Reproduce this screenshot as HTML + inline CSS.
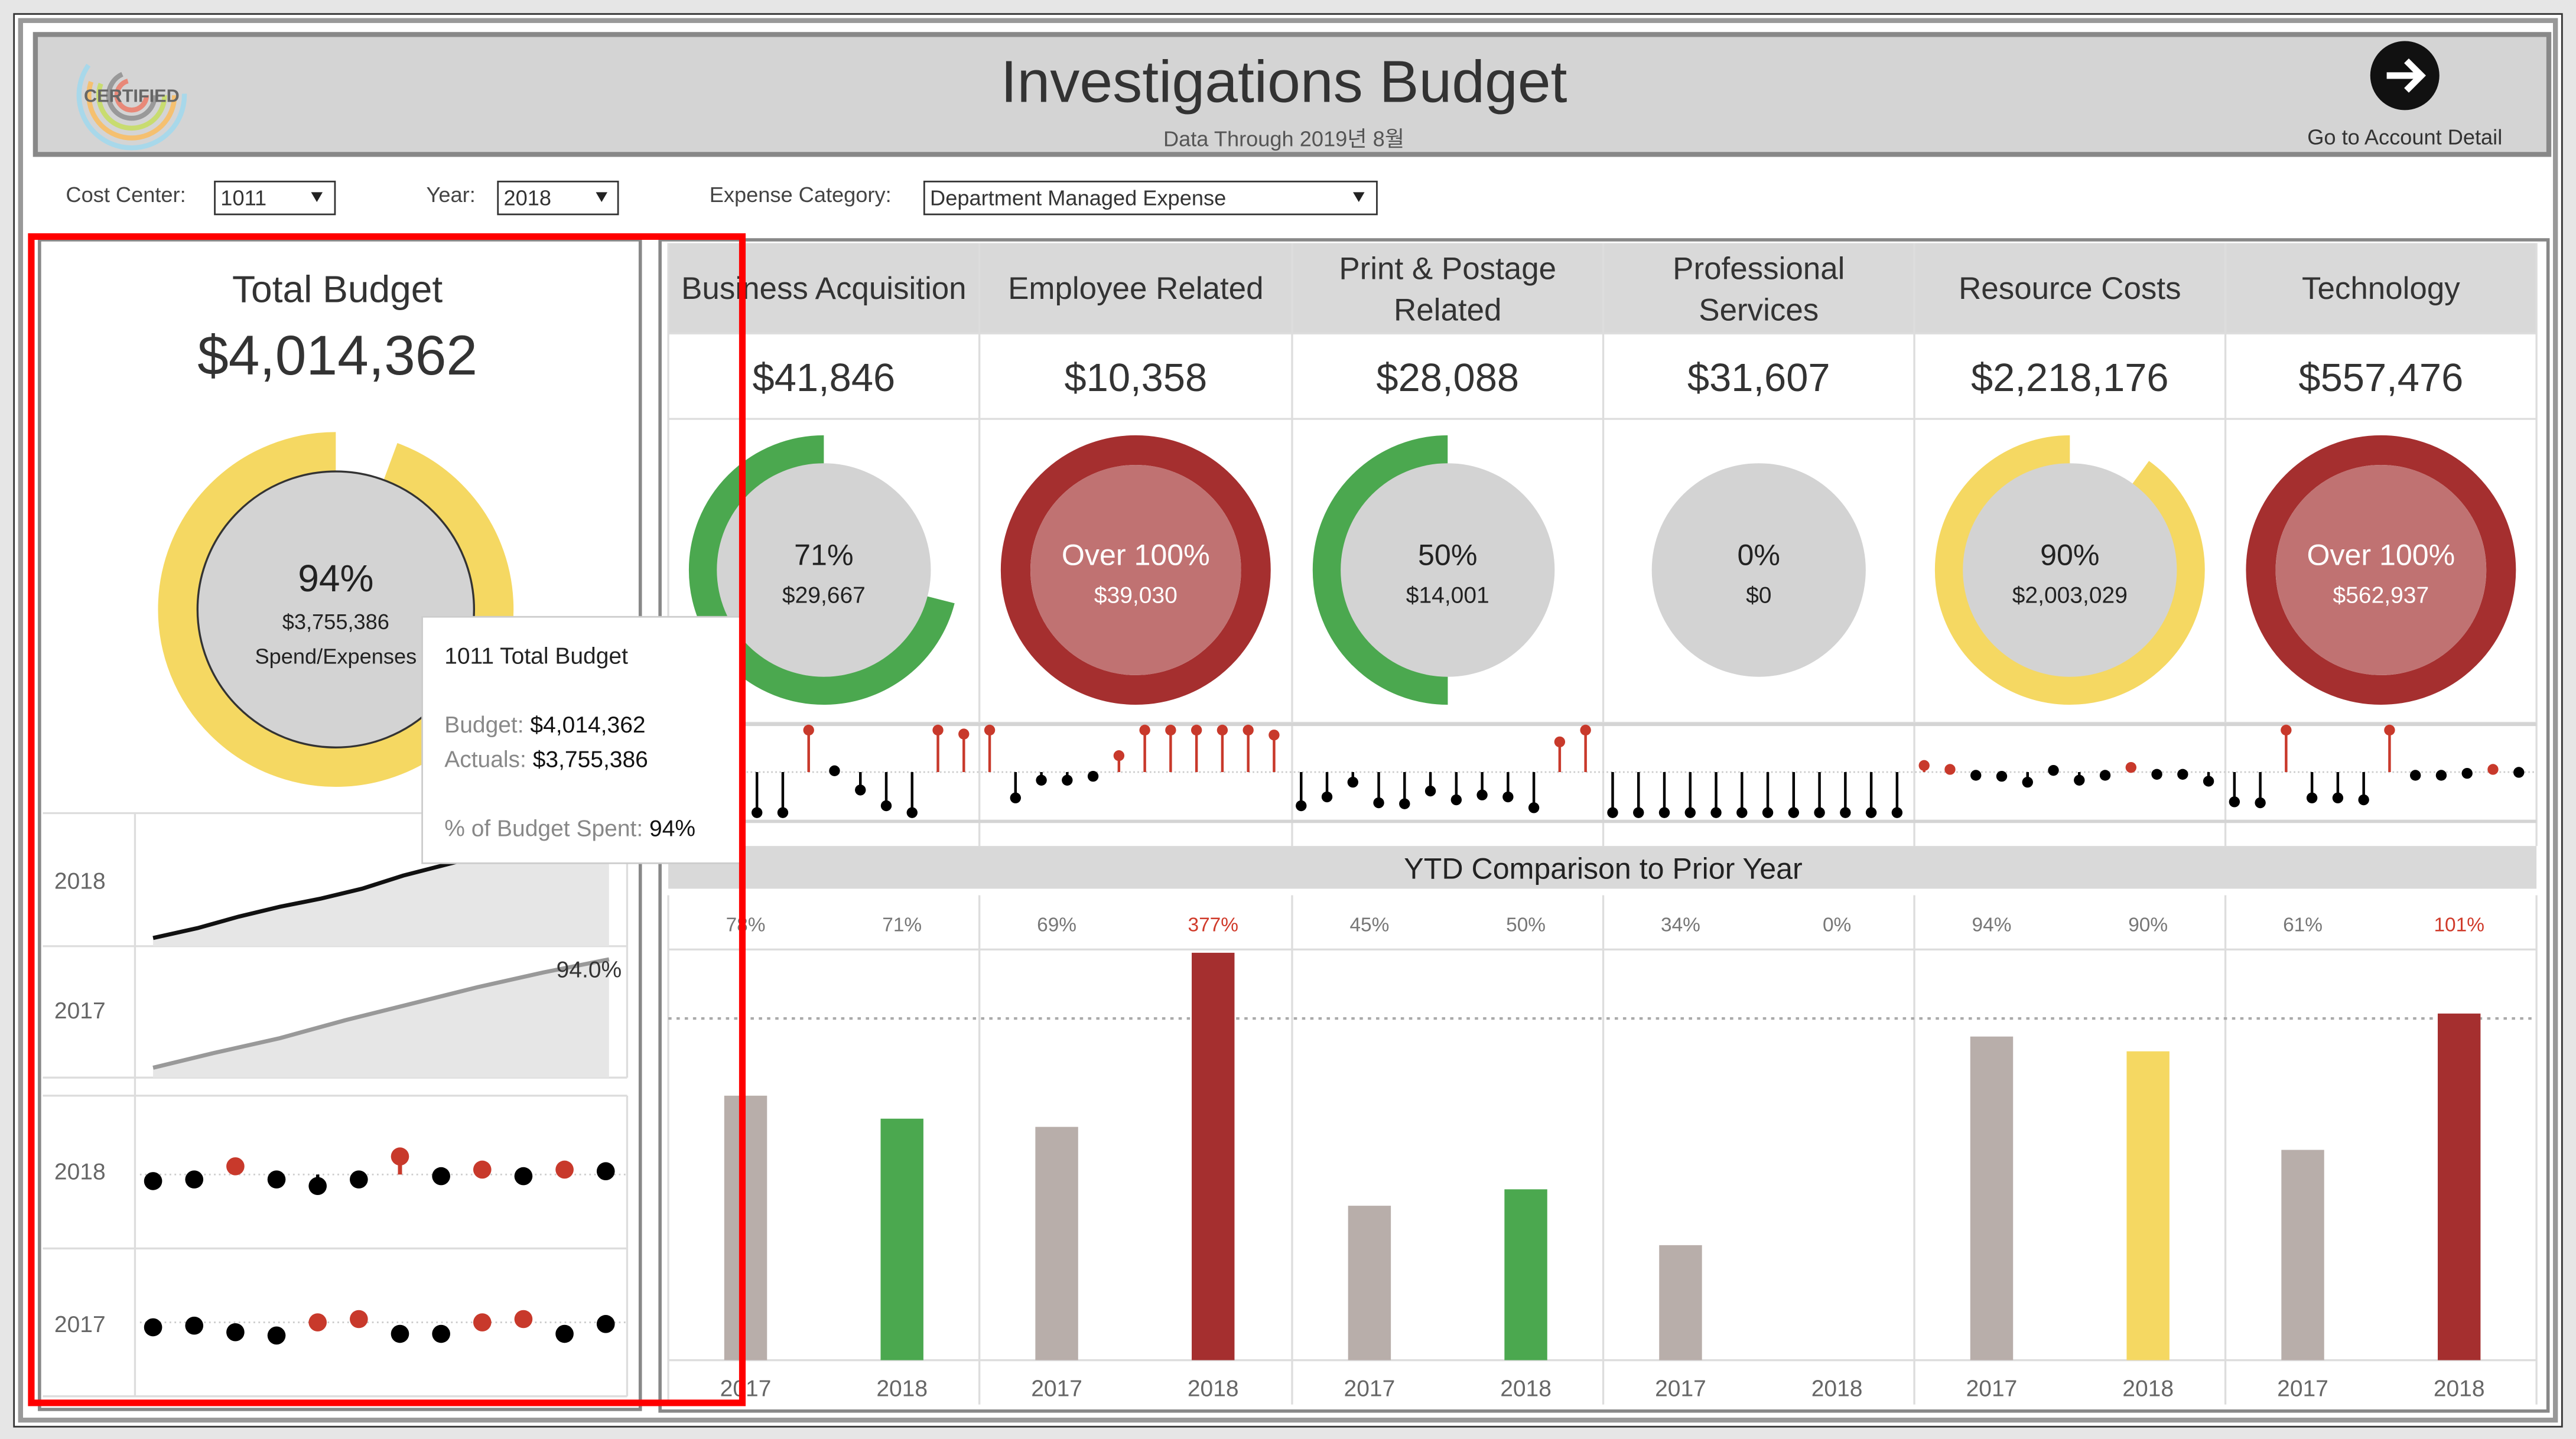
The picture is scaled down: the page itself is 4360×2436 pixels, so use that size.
<!DOCTYPE html>
<html><head><meta charset="utf-8">
<style>
html,body{margin:0;padding:0;background:#e6e6e6;}
svg{display:block;}
text{font-family:"Liberation Sans","Noto Sans CJK KR",sans-serif;}
</style></head>
<body>
<svg id="s" width="4360" height="2436" viewBox="0 0 1565 876" preserveAspectRatio="none" xmlns="http://www.w3.org/2000/svg">
<rect x="0" y="0" width="1565" height="876" fill="#e6e6e6"/>
<rect x="8.5" y="8.5" width="1548" height="860" fill="#fff" stroke="#333" stroke-width="1"/>
<rect x="12.5" y="12.5" width="1540" height="852" fill="#fff" stroke="#999" stroke-width="3"/>
<rect x="21.5" y="21" width="1527" height="73" fill="#d4d4d4" stroke="#888" stroke-width="3"/>
<g fill="none" stroke-width="3">
<circle cx="80" cy="58" r="32" stroke="#a8d8ea" stroke-dasharray="120 80"/>
<circle cx="80" cy="58" r="26" stroke="#f5c070" stroke-dasharray="90 80"/>
<circle cx="80" cy="58" r="20" stroke="#c8dc70" stroke-dasharray="70 60"/>
<circle cx="80" cy="58" r="14" stroke="#999" stroke-dasharray="60 30"/>
<circle cx="80" cy="58" r="9" stroke="#e88878" stroke-dasharray="40 20"/>
</g>
<text x="80" y="62" font-size="11" font-weight="bold" fill="#666" text-anchor="middle">CERTIFIED</text>
<text x="780" y="62" font-size="36" fill="#333" text-anchor="middle">Investigations Budget</text>
<text x="780" y="89" font-size="13" fill="#555" text-anchor="middle">Data Through 2019년 8월</text>
<circle cx="1461" cy="46" r="21" fill="#111"/>
<path d="M1450 46 H1470 M1462 37 L1471 46 L1462 55" stroke="#fff" stroke-width="4" fill="none"/>
<text x="1461" y="88" font-size="13" fill="#333" text-anchor="middle">Go to Account Detail</text>
<g font-size="13" fill="#444">
<text x="40" y="123">Cost Center:</text>
<text x="259" y="123">Year:</text>
<text x="431" y="123">Expense Category:</text>
</g>
<g fill="#fff" stroke="#333" stroke-width="1">
<rect x="130.5" y="110.5" width="73" height="20"/>
<rect x="302.5" y="110.5" width="73" height="20"/>
<rect x="561.5" y="110.5" width="275" height="20"/>
</g>
<g font-size="13" fill="#333">
<text x="134" y="125">1011</text><text x="306" y="125">2018</text><text x="565" y="125">Department Managed Expense</text>
</g>
<g fill="#222"><path d="M189 117 h7 l-3.5 6z"/><path d="M362 117 h7 l-3.5 6z"/><path d="M822 117 h7 l-3.5 6z"/></g>
<rect x="24" y="146" width="365" height="712" fill="#fff" stroke="#888" stroke-width="2"/>
<rect x="401" y="146" width="1147" height="713" fill="#fff" stroke="#888" stroke-width="2"/>
<text x="205" y="184" font-size="23" fill="#333" text-anchor="middle">Total Budget</text>
<text x="205" y="228" font-size="34" fill="#333" text-anchor="middle">$4,014,362</text>
<g id="left"></g>
<g id="right"></g>
<rect x="256.5" y="375.5" width="195" height="150" fill="#fff" stroke="#ccc"/>
<text x="270" y="404" font-size="14" fill="#222">1011 Total Budget</text>
<text x="270" y="446" font-size="14" fill="#888">Budget: <tspan fill="#111">$4,014,362</tspan></text>
<text x="270" y="467" font-size="14" fill="#888">Actuals: <tspan fill="#111">$3,755,386</tspan></text>
<text x="270" y="509" font-size="14" fill="#888">% of Budget Spent: <tspan fill="#111">94%</tspan></text>
<rect x="19" y="144" width="432" height="710" fill="none" stroke="#f00" stroke-width="4"/>
</svg>
<script>
var L=document.getElementById('left'),R=document.getElementById('right'),h='';
function ring(cx,cy,r,w,col,frac){var c=2*Math.PI*r;return '<circle cx="0" cy="0" r="'+r+'" fill="none" stroke="'+col+'" stroke-width="'+w+'" stroke-dasharray="'+(c*frac)+' '+c+'" transform="translate('+cx+' '+cy+') scale(-1 1) rotate(-90)"/>';}
h+=ring(204,371,96,24,'#f5d862',1);
h+='<path d="M204 371 L204 260 L245 260 Z" fill="#fff"/>';
h+='<circle cx="204" cy="371" r="84" fill="#d3d3d3" stroke="#333" stroke-width="1.2"/>';
h+='<text x="204" y="360" font-size="23" fill="#222" text-anchor="middle">94%</text>';
h+='<text x="204" y="383" font-size="13" fill="#222" text-anchor="middle">$3,755,386</text>';
h+='<text x="204" y="404" font-size="13" fill="#222" text-anchor="middle">Spend/Expenses</text>';
h+='<g stroke="#ddd" stroke-width="1.2" fill="none"><path d="M26 495H381M26 576H381M26 656H381M26 667H381M26 760H381M26 850H381"/><path d="M82 495V850M381 495V656M381 667V850"/></g>';
h+='<path d="M93 571 L120 565 L145 558 L170 552 L195 547 L220 541 L245 533 L270 526 L280 524 L370 524 L370 576 L93 576Z" fill="#e6e6e6"/>';
h+='<path d="M93 571 L120 565 L145 558 L170 552 L195 547 L220 541 L245 533 L280 524" stroke="#111" stroke-width="2.5" fill="none"/>';
h+='<path d="M93 650 L370 583 L370 656 L93 656Z" fill="#e6e6e6"/>';
h+='<path d="M93 650 L130 641 L170 632 L210 621 L250 611 L290 601 L330 592 L370 584" stroke="#999" stroke-width="2.5" fill="none"/>';
h+='<text x="338" y="595" font-size="14" fill="#333">94.0%</text>';
h+='<g font-size="14" fill="#666"><text x="33" y="541">2018</text><text x="33" y="620">2017</text><text x="33" y="718">2018</text><text x="33" y="811">2017</text></g>';
h+='<path d="M85 715H380M85 805H380" stroke="#ccc" stroke-dasharray="1 2"/>';
var d18=[[719,0],[718,0],[710,1],[718,0],[722,0],[718,0],[704,1],[716,0],[712,1],[716,0],[712,1],[713,0]];
var d17=[[808,0],[807,0],[811,0],[813,0],[805,1],[803,1],[812,0],[812,0],[805,1],[803,1],[812,0],[806,0]];
for(var i=0;i<12;i++){var x=93+25*i;
 if(i==4)h+='<path d="M'+x+' 715V722" stroke="#000" stroke-width="2"/>';
 if(i==6)h+='<path d="M'+x+' 704V715" stroke="#c8392b" stroke-width="2.5"/>';
 h+='<circle cx="'+x+'" cy="'+d18[i][0]+'" r="5.5" fill="'+(d18[i][1]?'#c8392b':'#000')+'"/>';
 h+='<circle cx="'+x+'" cy="'+d17[i][0]+'" r="5.5" fill="'+(d17[i][1]?'#c8392b':'#000')+'"/>';}
L.innerHTML=h;
h='';
var cs=[406,595,785,974,1163,1352,1541];
h+='<rect x="406" y="148" width="1135" height="55" fill="#d9d9d9"/>';
h+='<g stroke="#ddd" stroke-width="1.2" fill="none"><path d="M406 203H1541M406 255H1541M406 440H1541M406 500H1541M406 578H1541M406 828H1541"/></g>';
for(i=0;i<7;i++)h+='<path d="M'+cs[i]+' 148V515M'+cs[i]+' 545V855" stroke="#ddd" stroke-width="1.2"/>';
h+='<path d="M406 441H1541M406 500H1541" stroke="#d4d4d4" stroke-width="2"/>';
var names=[['Business Acquisition'],['Employee Related'],['Print & Postage','Related'],['Professional','Services'],['Resource Costs'],['Technology']];
var vals=['$41,846','$10,358','$28,088','$31,607','$2,218,176','$557,476'];
var dn=[['#4ba84f',0.71,'71%','$29,667',0],['#a52f2f',1,'Over 100%','$39,030',1],['#4ba84f',0.5,'50%','$14,001',0],['#ccc',0,'0%','$0',0],['#f5d862',0.9,'90%','$2,003,029',0],['#a52f2f',1,'Over 100%','$562,937',1]];
for(i=0;i<6;i++){var cx=(cs[i]+cs[i+1])/2;
 if(names[i].length==1)h+='<text x="'+cx+'" y="182" font-size="19" fill="#333" text-anchor="middle">'+names[i][0].replace('&','&amp;')+'</text>';
 else h+='<text x="'+cx+'" y="170" font-size="19" fill="#333" text-anchor="middle">'+names[i][0].replace('&','&amp;')+'</text><text x="'+cx+'" y="195" font-size="19" fill="#333" text-anchor="middle">'+names[i][1]+'</text>';
 h+='<text x="'+cx+'" y="238" font-size="24" fill="#333" text-anchor="middle">'+vals[i]+'</text>';
 var D=dn[i];
 if(D[1]>0)h+=ring(cx,347,73,18,D[0],D[1]);
 h+='<circle cx="'+cx+'" cy="347" r="'+(D[4]?64:65)+'" fill="'+(D[4]?'#c07272':'#d3d3d3')+'"/>';
 var tc=D[4]?'#fff':'#222';
 h+='<text x="'+cx+'" y="344" font-size="18" fill="'+tc+'" text-anchor="middle">'+D[2]+'</text>';
 h+='<text x="'+cx+'" y="367" font-size="14" fill="'+tc+'" text-anchor="middle">'+D[3]+'</text>';}
var lp=[
[[87,535,0],[108,535,0],[129,115,1],[150,322,0],[171,420,0],[192,500,0],[213,535,0],[234,115,1],[255,135,1]],
[[276,115,1],[297,460,0],[318,370,0],[339,370,0],[360,350,0],[381,245,1],[402,115,1],[423,115,1],[444,115,1],[465,115,1],[486,115,1],[507,140,1]],
[[529,500,0],[550,455,0],[571,380,0],[592,485,0],[613,490,0],[634,425,0],[655,470,0],[676,445,0],[697,455,0],[718,510,0],[739,175,1],[760,115,1]],
[],
[[1035,295,1],[1056,315,1],[1077,345,0],[1098,350,0],[1119,380,0],[1140,320,0],[1161,370,0],[1182,345,0],[1203,305,1],[1224,340,0],[1245,340,0],[1266,375,0]],
[[1287,480,0],[1308,485,0],[1329,115,1],[1350,460,0],[1371,460,0],[1392,470,0],[1413,115,1],[1434,345,0],[1455,345,0],[1476,335,0],[1497,315,1],[1518,330,0]]];
for(i=0;i<12;i++)lp[3].push([782+21*i,535,0]);
h+='<path d="M406 470H1541" stroke="#ccc" stroke-dasharray="1 1.5"/>';
lp.forEach(function(c){c.forEach(function(p){var x=394.8+p[0]*0.748,y=430.7+p[1]/8.36,col=p[2]?'#c8392b':'#000';
 h+='<path d="M'+x+' 470V'+y+'" stroke="'+col+'" stroke-width="1.6"/><circle cx="'+x+'" cy="'+y+'" r="3.3" fill="'+col+'"/>';});});
h+='<rect x="406" y="515" width="1135" height="26" fill="#d9d9d9"/>';
h+='<text x="974" y="535" font-size="18" fill="#222" text-anchor="middle">YTD Comparison to Prior Year</text>';
h+='<path d="M406 620H1541" stroke="#aaa" stroke-width="1.5" stroke-dasharray="2 3"/>';
var pc=['78%','71%','69%','377%','45%','50%','34%','0%','94%','90%','61%','101%'];
var tops=[667,681,686,580,734,724,758,null,631,640,700,617];
var bc=['#b8aeaa','#4ba84f','#b8aeaa','#a52f2f','#b8aeaa','#4ba84f','#b8aeaa','#b8aeaa','#b8aeaa','#f5d862','#b8aeaa','#a52f2f'];
for(i=0;i<12;i++){var c=cs[Math.floor(i/2)]+(i%2?142:47);
 h+='<text x="'+c+'" y="567" font-size="12" fill="'+((i==3||i==11)?'#d03a2a':'#777')+'" text-anchor="middle">'+pc[i]+'</text>';
 if(tops[i])h+='<rect x="'+(c-13)+'" y="'+tops[i]+'" width="26" height="'+(828-tops[i])+'" fill="'+bc[i]+'"/>';
 h+='<text x="'+c+'" y="850" font-size="14" fill="#666" text-anchor="middle">'+(i%2?'2018':'2017')+'</text>';}
R.innerHTML=h;
</script>
</body></html>
